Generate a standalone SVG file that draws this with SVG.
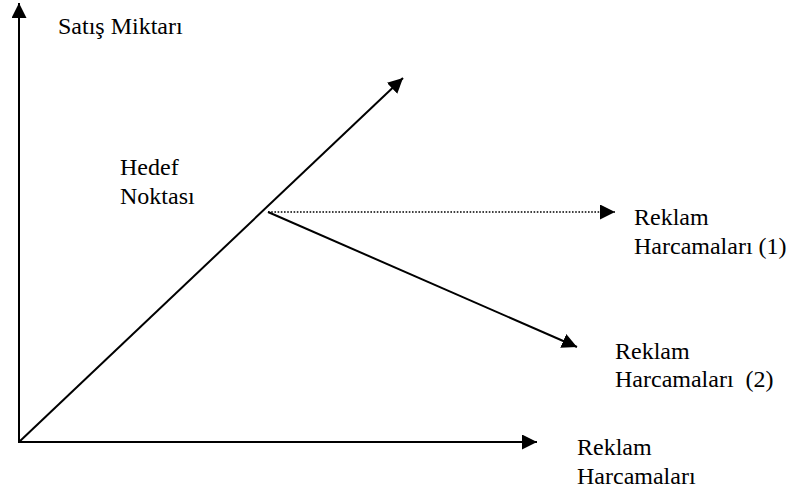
<svg xmlns="http://www.w3.org/2000/svg" width="788" height="492" viewBox="0 0 788 492">
<style>
.ln{stroke:#000;stroke-width:2;fill:none}
.dot{stroke:#000;stroke-width:1.6;fill:none;stroke-dasharray:1.6 1.6}
.t{font-family:'Liberation Serif','Times New Roman',serif;font-size:24px;fill:#000}
</style>
<defs>
<marker id="ah" markerUnits="userSpaceOnUse" markerWidth="16" markerHeight="16" refX="15" refY="7.5" orient="auto" viewBox="0 0 16 16">
<path d="M0,0 L15,7.5 L0,15 Z" fill="#000"/>
</marker>
</defs>
<rect width="788" height="492" fill="#fff"/>
<g id="connectors">
<line class="ln" x1="19" y1="443" x2="19" y2="3" marker-end="url(#ah)"/>
<line class="ln" x1="18" y1="442" x2="537" y2="442" marker-end="url(#ah)"/>
<line class="ln" x1="19" y1="442" x2="403" y2="78" marker-end="url(#ah)"/>
<line class="dot" x1="268" y1="212" x2="615" y2="212" marker-end="url(#ah)"/>
<line class="ln" x1="268" y1="212" x2="577" y2="347" marker-end="url(#ah)"/>
</g>
<g id="y-label"><text class="t" x="58" y="34">Satış Miktarı</text></g>
<g id="hedef"><text class="t" x="120" y="175">Hedef</text><text class="t" x="120" y="204">Noktası</text></g>
<g id="reklam1"><text class="t" x="634" y="225">Reklam</text><text class="t" x="634" y="254">Harcamaları (1)</text></g>
<g id="reklam2"><text class="t" x="615" y="359">Reklam</text><text class="t" x="615" y="387" xml:space="preserve">Harcamaları  (2)</text></g>
<g id="x-label"><text class="t" x="577" y="455">Reklam</text><text class="t" x="577" y="484">Harcamaları</text></g>
</svg>
